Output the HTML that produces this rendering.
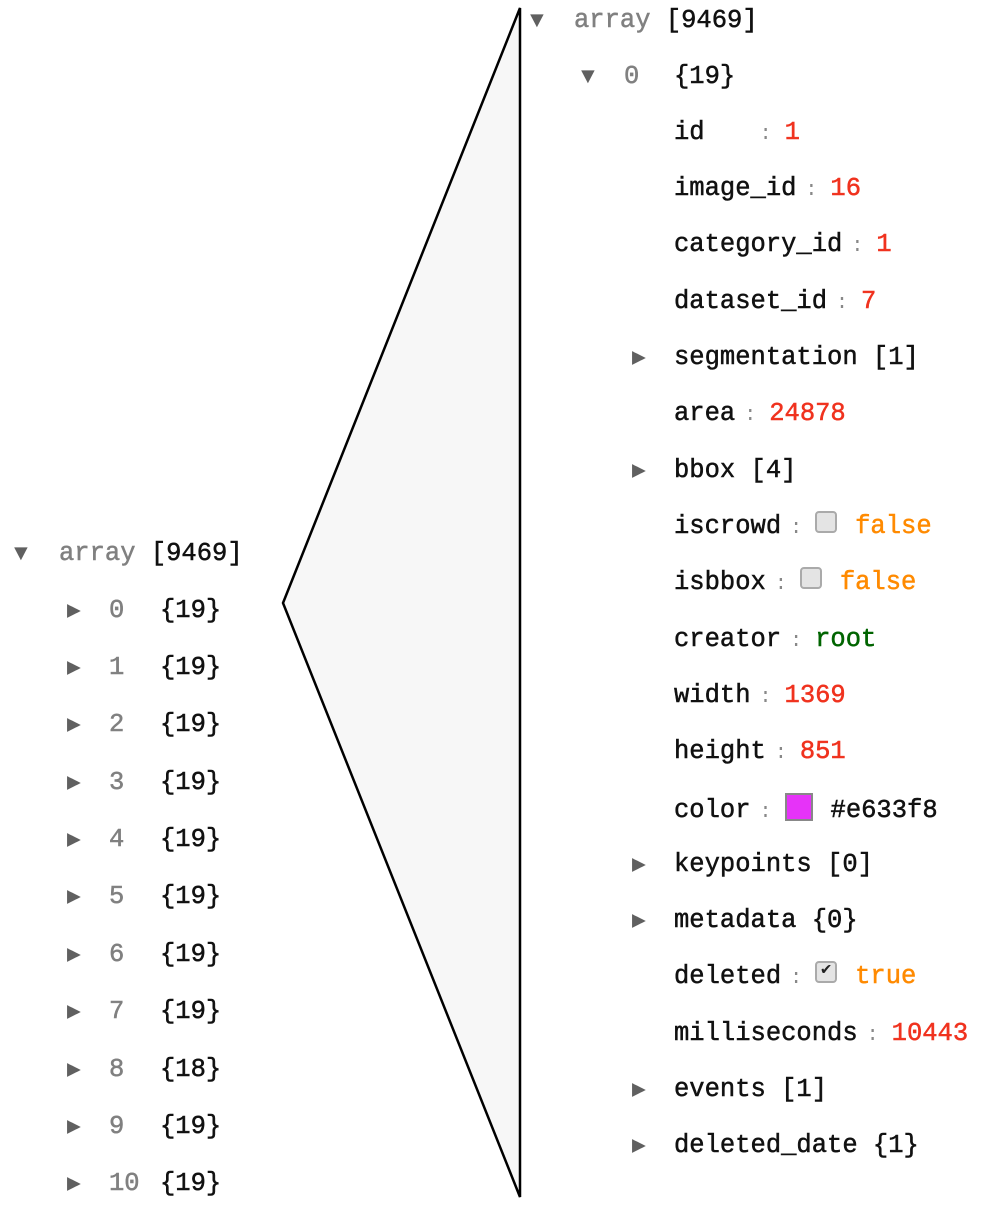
<!DOCTYPE html>
<html><head><meta charset="utf-8"><style>
body{margin:0;width:1003px;height:1224px;background:#fff;position:relative;overflow:hidden;font-family:"Liberation Mono","DejaVu Sans Mono",monospace;font-size:25.5px;color:#111;-webkit-text-stroke:0.5px currentColor}
.r{position:absolute;height:30px;line-height:30px;white-space:nowrap;margin-top:2px}
.g{color:#808080}.red{color:#f0321e}.or{color:#ff8a00}.gr{color:#006400}
.t{position:absolute;color:#606060;font-size:23px;height:30px;line-height:30px;margin-top:2px;-webkit-text-stroke:0}
.c{color:#888;display:inline-block;width:34px;text-indent:9px;font-size:20px;-webkit-text-stroke:0}
.cb{display:inline-block;width:22px;height:22px;border:2px solid #aaa;border-radius:4px;background:#e4e4e4;margin-right:18px;box-sizing:border-box;position:relative;top:-4px;vertical-align:middle;text-align:center;line-height:16px;font-size:17px;color:#222;-webkit-text-stroke:0}
.sw{display:inline-block;width:28px;height:28px;background:#e633f8;border:2px solid #888;box-sizing:border-box;vertical-align:-4px;margin-right:18px}
</style></head><body>
<svg width="1003" height="1224" style="position:absolute;left:0;top:0">
<polygon points="283,603 520,8 520,1197" fill="#f7f7f7" stroke="#000" stroke-width="2.5"/>
</svg>
<div class="t" style="left:14px;top:537px">▼</div>
<div class="r" style="left:59px;top:537px"><span class="g">array</span> [9469]</div>
<div class="t" style="left:530px;top:4px">▼</div>
<div class="r" style="left:574px;top:4px"><span class="g">array</span> [9469]</div>
<div class="t" style="left:581px;top:60px">▼</div>
<div class="r" style="left:624px;top:60px"><span class="g">0</span></div>
<div class="r" style="left:674px;top:60px">{19}</div>
<div class="r" style="left:674px;top:116px">id<span style="display:inline-block;width:46px"></span><span class="c">:</span><span class="red">1</span></div>
<div class="r" style="left:674px;top:172px">image_id<span class="c">:</span><span class="red">16</span></div>
<div class="r" style="left:674px;top:228px">category_id<span class="c">:</span><span class="red">1</span></div>
<div class="r" style="left:674px;top:285px">dataset_id<span class="c">:</span><span class="red">7</span></div>
<div class="t" style="left:632px;top:341px">▶</div>
<div class="r" style="left:674px;top:341px">segmentation [1]</div>
<div class="r" style="left:674px;top:397px">area<span class="c">:</span><span class="red">24878</span></div>
<div class="t" style="left:632px;top:454px">▶</div>
<div class="r" style="left:674px;top:454px">bbox  [4]</div>
<div class="r" style="left:674px;top:510px">iscrowd<span class="c">:</span><span class="cb"></span><span class="or">false</span></div>
<div class="r" style="left:674px;top:566px">isbbox<span class="c">:</span><span class="cb"></span><span class="or">false</span></div>
<div class="r" style="left:674px;top:623px">creator<span class="c">:</span><span class="gr">root</span></div>
<div class="r" style="left:674px;top:679px">width<span class="c">:</span><span class="red">1369</span></div>
<div class="r" style="left:674px;top:735px">height<span class="c">:</span><span class="red">851</span></div>
<div class="r" style="left:674px;top:791px">color<span class="c">:</span><span class="sw"></span>#e633f8</div>
<div class="t" style="left:632px;top:848px">▶</div>
<div class="r" style="left:674px;top:848px">keypoints [0]</div>
<div class="t" style="left:632px;top:904px">▶</div>
<div class="r" style="left:674px;top:904px">metadata {0}</div>
<div class="r" style="left:674px;top:960px">deleted<span class="c">:</span><span class="cb">✔</span><span class="or">true</span></div>
<div class="r" style="left:674px;top:1017px">milliseconds<span class="c">:</span><span class="red">10443</span></div>
<div class="t" style="left:632px;top:1073px">▶</div>
<div class="r" style="left:674px;top:1073px">events [1]</div>
<div class="t" style="left:632px;top:1129px">▶</div>
<div class="r" style="left:674px;top:1129px">deleted_date {1}</div>
<div class="t" style="left:67px;top:594px">▶</div><div class="r g" style="left:109px;top:594px">0</div><div class="r" style="left:160px;top:594px">{19}</div>
<div class="t" style="left:67px;top:651px">▶</div><div class="r g" style="left:109px;top:651px">1</div><div class="r" style="left:160px;top:651px">{19}</div>
<div class="t" style="left:67px;top:708px">▶</div><div class="r g" style="left:109px;top:708px">2</div><div class="r" style="left:160px;top:708px">{19}</div>
<div class="t" style="left:67px;top:766px">▶</div><div class="r g" style="left:109px;top:766px">3</div><div class="r" style="left:160px;top:766px">{19}</div>
<div class="t" style="left:67px;top:823px">▶</div><div class="r g" style="left:109px;top:823px">4</div><div class="r" style="left:160px;top:823px">{19}</div>
<div class="t" style="left:67px;top:880px">▶</div><div class="r g" style="left:109px;top:880px">5</div><div class="r" style="left:160px;top:880px">{19}</div>
<div class="t" style="left:67px;top:938px">▶</div><div class="r g" style="left:109px;top:938px">6</div><div class="r" style="left:160px;top:938px">{19}</div>
<div class="t" style="left:67px;top:995px">▶</div><div class="r g" style="left:109px;top:995px">7</div><div class="r" style="left:160px;top:995px">{19}</div>
<div class="t" style="left:67px;top:1053px">▶</div><div class="r g" style="left:109px;top:1053px">8</div><div class="r" style="left:160px;top:1053px">{18}</div>
<div class="t" style="left:67px;top:1110px">▶</div><div class="r g" style="left:109px;top:1110px">9</div><div class="r" style="left:160px;top:1110px">{19}</div>
<div class="t" style="left:67px;top:1167px">▶</div><div class="r g" style="left:109px;top:1167px">10</div><div class="r" style="left:160px;top:1167px">{19}</div>
</body></html>
